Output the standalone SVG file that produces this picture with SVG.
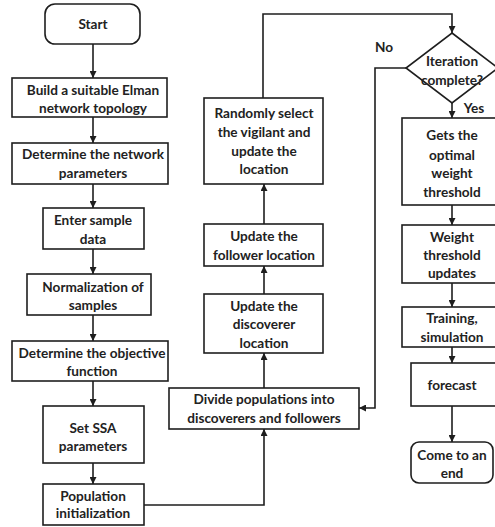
<svg xmlns="http://www.w3.org/2000/svg" width="495" height="527" viewBox="0 0 495 527">
<style>
.b{fill:#fff;stroke:#1e1e1e;stroke-width:1.6}
.t{font-family:Lato,"Liberation Sans",sans-serif;font-weight:bold;font-size:13.6px;fill:#222;text-anchor:middle}
.c{fill:none;stroke:#1e1e1e;stroke-width:1.6}
</style>
<defs>
<marker id="a" viewBox="0 0 10 10" refX="10" refY="5" markerWidth="7" markerHeight="7" markerUnits="userSpaceOnUse" orient="auto"><path d="M0,0L10,5L0,10z" fill="#1e1e1e"/></marker>
</defs>
<rect width="495" height="527" fill="#fff"/>
<g id="connectors">
<path class="c" d="M93,44V78" marker-end="url(#a)"/>
<path class="c" d="M93,117V143" marker-end="url(#a)"/>
<path class="c" d="M93,184V208" marker-end="url(#a)"/>
<path class="c" d="M93,249V274" marker-end="url(#a)"/>
<path class="c" d="M93,315V341" marker-end="url(#a)"/>
<path class="c" d="M93,381V406" marker-end="url(#a)"/>
<path class="c" d="M93,463V484" marker-end="url(#a)"/>
<path class="c" d="M144,505H264V429" marker-end="url(#a)"/>
<path class="c" d="M264,388V353" marker-end="url(#a)"/>
<path class="c" d="M264,294V266" marker-end="url(#a)"/>
<path class="c" d="M264,224V184" marker-end="url(#a)"/>
<path class="c" d="M263,98V14H452V33" marker-end="url(#a)"/>
<path class="c" d="M406,68H375V408H359" marker-end="url(#a)"/>
<path class="c" d="M452,103V118" marker-end="url(#a)"/>
<path class="c" d="M452,205V225" marker-end="url(#a)"/>
<path class="c" d="M452,283V307" marker-end="url(#a)"/>
<path class="c" d="M452,347V363" marker-end="url(#a)"/>
<path class="c" d="M452,406V442" marker-end="url(#a)"/>
<text class="t" x="384" y="52">No</text>
<text class="t" x="474" y="113">Yes</text>
</g>
<g id="start"><rect class="b" x="45" y="4" width="95" height="40" rx="10"/><text class="t" x="93" y="29">Start</text></g>
<g id="build"><rect class="b" x="12" y="78" width="155" height="39"/><text class="t" x="93" y="95">Build a suitable Elman</text><text class="t" x="93" y="113">network topology</text></g>
<g id="netparams"><rect class="b" x="12" y="143" width="156" height="41"/><text class="t" x="93" y="159">Determine the network</text><text class="t" x="93" y="178">parameters</text></g>
<g id="sample"><rect class="b" x="43" y="208" width="101" height="41"/><text class="t" x="93" y="225">Enter sample</text><text class="t" x="93" y="244">data</text></g>
<g id="normalize"><rect class="b" x="27" y="274" width="124" height="41"/><text class="t" x="93" y="292">Normalization of</text><text class="t" x="93" y="310">samples</text></g>
<g id="objective"><rect class="b" x="12" y="341" width="156" height="40"/><text class="t" x="92" y="358">Determine the objective</text><text class="t" x="92" y="376">function</text></g>
<g id="ssa"><rect class="b" x="43" y="406" width="101" height="57"/><text class="t" x="93" y="433">Set SSA</text><text class="t" x="93" y="451">parameters</text></g>
<g id="popinit"><rect class="b" x="43" y="484" width="101" height="41"/><text class="t" x="93" y="501">Population</text><text class="t" x="93" y="518">initialization</text></g>
<g id="divide"><rect class="b" x="169" y="388" width="190" height="41"/><text class="t" x="264" y="404">Divide populations into</text><text class="t" x="264" y="423">discoverers and followers</text></g>
<g id="discoverer"><rect class="b" x="204" y="294" width="119" height="59"/><text class="t" x="264" y="311">Update the</text><text class="t" x="264" y="329">discoverer</text><text class="t" x="264" y="348">location</text></g>
<g id="follower"><rect class="b" x="204" y="224" width="119" height="42"/><text class="t" x="264" y="241">Update the</text><text class="t" x="264" y="260">follower location</text></g>
<g id="vigilant"><rect class="b" x="204" y="98" width="119" height="86"/><text class="t" x="264" y="118">Randomly select</text><text class="t" x="264" y="137">the vigilant and</text><text class="t" x="264" y="156">update the</text><text class="t" x="264" y="174">location</text></g>
<g id="iteration"><path class="b" d="M452,33L498,68L452,103L406,68z"/><text class="t" x="452" y="66">Iteration</text><text class="t" x="452" y="85">complete?</text></g>
<g id="optimal"><rect class="b" x="402" y="118" width="100" height="87"/><text class="t" x="452" y="140">Gets the</text><text class="t" x="452" y="160">optimal</text><text class="t" x="452" y="178">weight</text><text class="t" x="452" y="197">threshold</text></g>
<g id="wupdate"><rect class="b" x="402" y="225" width="100" height="58"/><text class="t" x="452" y="242">Weight</text><text class="t" x="452" y="260">threshold</text><text class="t" x="452" y="278">updates</text></g>
<g id="training"><rect class="b" x="402" y="307" width="100" height="40"/><text class="t" x="452" y="323">Training,</text><text class="t" x="452" y="342">simulation</text></g>
<g id="forecast"><rect class="b" x="411" y="363" width="90" height="43"/><text class="t" x="452" y="390">forecast</text></g>
<g id="end"><rect class="b" x="411" y="442" width="82" height="41" rx="8"/><text class="t" x="452" y="460">Come to an</text><text class="t" x="452" y="478">end</text></g>
</svg>
